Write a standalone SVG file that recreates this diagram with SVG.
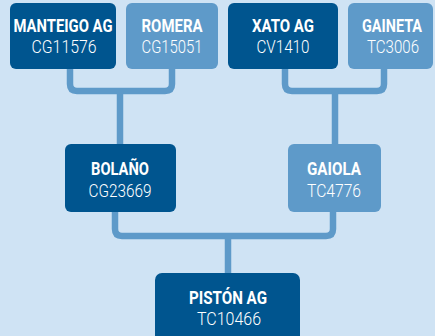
<svg xmlns="http://www.w3.org/2000/svg" width="435" height="336" viewBox="0 0 435 336">
<style>
.dark{fill:#00558f}
.light{fill:#5e9ac9}
.t{font-family:Roboto,"Liberation Sans",sans-serif;font-weight:700;font-size:19px;fill:#fff;text-anchor:middle}
.c{font-family:Roboto,"Liberation Sans",sans-serif;font-weight:300;font-size:18px;fill:#fff;text-anchor:middle}
.ln{fill:none;stroke:#5e9ac9;stroke-width:6.5}
</style>
<rect width="435" height="336" fill="#cfe3f4"/>
<g id="connectors" class="ln">
<path d="M70 69V84Q70 91 77 91H165Q172 91 172 84V69"/>
<path d="M120 91V144"/>
<path d="M285 69V84Q285 91 292 91H377Q384 91 384 84V69"/>
<path d="M335 91V144"/>
<path d="M115 212V229Q115 236 122 236H326Q333 236 333 229V212"/>
<path d="M228 236V273"/>
</g>
<g id="manteigo"><rect class="dark" x="10" y="3" width="106" height="66" rx="6"/><text class="t" x="63" y="32" textLength="99" lengthAdjust="spacingAndGlyphs">MANTEIGO AG</text><text class="c" x="64" y="53" textLength="65" lengthAdjust="spacingAndGlyphs">CG11576</text></g>
<g id="romera"><rect class="light" x="126" y="3" width="92" height="66" rx="6"/><text class="t" x="172" y="32" textLength="61" lengthAdjust="spacingAndGlyphs">ROMERA</text><text class="c" x="172" y="53" textLength="61" lengthAdjust="spacingAndGlyphs">CG15051</text></g>
<g id="xato"><rect class="dark" x="228" y="3" width="110" height="66" rx="6"/><text class="t" x="283" y="32" textLength="62" lengthAdjust="spacingAndGlyphs">XATO AG</text><text class="c" x="283" y="53" textLength="53" lengthAdjust="spacingAndGlyphs">CV1410</text></g>
<g id="gaineta"><rect class="light" x="348" y="3" width="85" height="66" rx="6"/><text class="t" transform="translate(392 32) scale(0.77 1)" x="0" y="0" textLength="78" lengthAdjust="spacingAndGlyphs">GAINETA</text><text class="c" x="393" y="53" textLength="52" lengthAdjust="spacingAndGlyphs">TC3006</text></g>
<g id="bolano"><rect class="dark" x="65" y="144" width="111" height="68" rx="6"/><text class="t" x="120" y="175" textLength="58" lengthAdjust="spacingAndGlyphs">BOLAÑO</text><text class="c" x="120" y="197" textLength="63" lengthAdjust="spacingAndGlyphs">CG23669</text></g>
<g id="gaiola"><rect class="light" x="288" y="144" width="93" height="68" rx="6"/><text class="t" x="334" y="175" textLength="54" lengthAdjust="spacingAndGlyphs">GAIOLA</text><text class="c" x="334" y="197" textLength="54" lengthAdjust="spacingAndGlyphs">TC4776</text></g>
<g id="piston"><rect class="dark" x="155" y="273" width="145" height="70" rx="7"/><text class="t" x="228" y="304" textLength="78" lengthAdjust="spacingAndGlyphs">PISTÓN AG</text><text class="c" x="229" y="325" textLength="64" lengthAdjust="spacingAndGlyphs">TC10466</text></g>
</svg>
